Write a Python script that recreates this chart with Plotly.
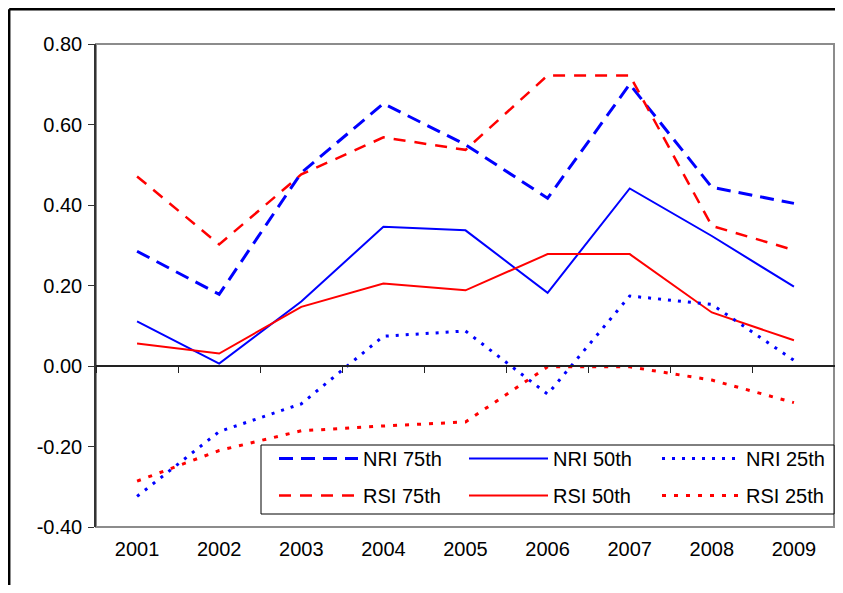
import plotly.graph_objects as go

years = ["2001", "2002", "2003", "2004", "2005", "2006", "2007", "2008", "2009"]
nri_75 = [0.285, 0.178, 0.480, 0.652, 0.550, 0.417, 0.700, 0.444, 0.404]
nri_50 = [0.111, 0.006, 0.160, 0.346, 0.337, 0.182, 0.441, 0.323, 0.197]
nri_25 = [-0.324, -0.163, -0.094, 0.074, 0.087, -0.070, 0.174, 0.153, 0.014]
rsi_75 = [0.471, 0.302, 0.476, 0.568, 0.537, 0.722, 0.722, 0.348, 0.288]
rsi_50 = [0.056, 0.031, 0.147, 0.205, 0.188, 0.278, 0.278, 0.133, 0.064]
rsi_25 = [-0.286, -0.210, -0.161, -0.149, -0.139, -0.002, -0.002, -0.035, -0.091]
y_ticks = [-0.4, -0.2, 0.0, 0.2, 0.4, 0.6, 0.8]
y_tick_text = ["-0.40", "-0.20", "0.00", "0.20", "0.40", "0.60", "0.80"]

FONT = "Liberation Sans, Arial, sans-serif"
BLUE = "#0000FF"
RED = "#FF0000"

# (name, values, colour, dash, width, legend id)
series = [
    ("NRI 75th", nri_75, BLUE, "14px,8px", 3, "legend"),
    ("RSI 75th", rsi_75, RED, "12px,9px", 2.5, "legend"),
    ("NRI 50th", nri_50, BLUE, "solid", 2, "legend2"),
    ("RSI 50th", rsi_50, RED, "solid", 2, "legend2"),
    ("NRI 25th", nri_25, BLUE, "3px,7px", 3, "legend3"),
    ("RSI 25th", rsi_25, RED, "4px,8px", 3, "legend3"),
]

fig = go.Figure()
for name, vals, col, dash, w, leg in series:
    fig.add_trace(go.Scatter(x=years, y=vals, name=name, mode="lines",
                             line=dict(color=col, dash=dash, width=w),
                             legend=leg, legendgroup=name,
                             hoverinfo="skip"))

# dummy trace to carry the zero-line axis
fig.add_trace(go.Scatter(x=years, y=[None] * len(years), xaxis="x2",
                         mode="lines", showlegend=False, hoverinfo="skip"))

# plot area in on-screen pixels (page body adds an 8px offset)
OFF = 8
PL, PR, PT, PB = 96, 835, 44, 527
PW, PH = PR - PL, PB - PT
W, H = 843 - 2 * OFF, 593 - 2 * OFF


def px_x(p):
    return (p - PL) / PW


def px_y(p):
    return (PB - p) / PH


leg_common = dict(orientation="v", yanchor="top", xanchor="left",
                  bgcolor="rgba(0,0,0,0)", borderwidth=0,
                  font=dict(size=20, family=FONT, color="black"),
                  itemwidth=79, tracegroupgap=8, y=px_y(439))

fig.update_layout(
    width=W, height=H,
    margin=dict(l=PL - OFF, r=W - (PR - OFF), t=PT - OFF, b=H - (PB - OFF),
                autoexpand=False),
    paper_bgcolor="white", plot_bgcolor="white",
    font=dict(family=FONT, size=20, color="black"),
    xaxis=dict(type="category", categoryorder="array", categoryarray=years,
               range=[-0.5, 8.5], showgrid=False, zeroline=False,
               showline=False, ticks="", ticklabelstandoff=8,
               tickfont=dict(size=20), automargin=False),
    xaxis2=dict(type="category", categoryorder="array", categoryarray=years,
                range=[-0.5, 8.5], overlaying="x", anchor="free",
                position=1/3, side="bottom", showgrid=False, zeroline=False,
                showline=True, linecolor="#222222", linewidth=1.5,
                ticks="outside", tickson="boundaries", ticklen=6,
                tickcolor="#222222", showticklabels=False, automargin=False),
    yaxis=dict(range=[-0.4, 0.8], tickvals=y_ticks, ticktext=y_tick_text,
               showgrid=False, zeroline=False, showline=True,
               linecolor="#333333", linewidth=1.5, ticks="outside",
               ticklen=6, tickcolor="#333333", ticklabelstandoff=2,
               tickfont=dict(size=20), automargin=False),
    legend=dict(leg_common, x=px_x(274)),
    legend2=dict(leg_common, x=px_x(464)),
    legend3=dict(leg_common, x=px_x(657)),
    shapes=[
        dict(type="rect", xref="paper", yref="paper", x0=0, x1=px_x(PR - 1),
             y0=0, y1=1, line=dict(color="#8c8c8c", width=2), layer="below"),
        dict(type="rect", xref="paper", yref="paper", x0=px_x(261),
             x1=px_x(PR - 1), y0=px_y(514), y1=px_y(445),
             line=dict(color="black", width=1), fillcolor="white",
             layer="above"),
        # outer chart frame (top and left edges only are visible)
        dict(type="line", xref="paper", yref="paper", x0=px_x(OFF + 1.2),
             x1=px_x(900), y0=px_y(OFF + 1.2), y1=px_y(OFF + 1.2),
             line=dict(color="black", width=2.5)),
        dict(type="line", xref="paper", yref="paper", x0=px_x(OFF + 1.2),
             x1=px_x(OFF + 1.2), y0=px_y(OFF + 1.2), y1=px_y(700),
             line=dict(color="black", width=2.5)),
    ],
)

fig.write_html("out.html")
